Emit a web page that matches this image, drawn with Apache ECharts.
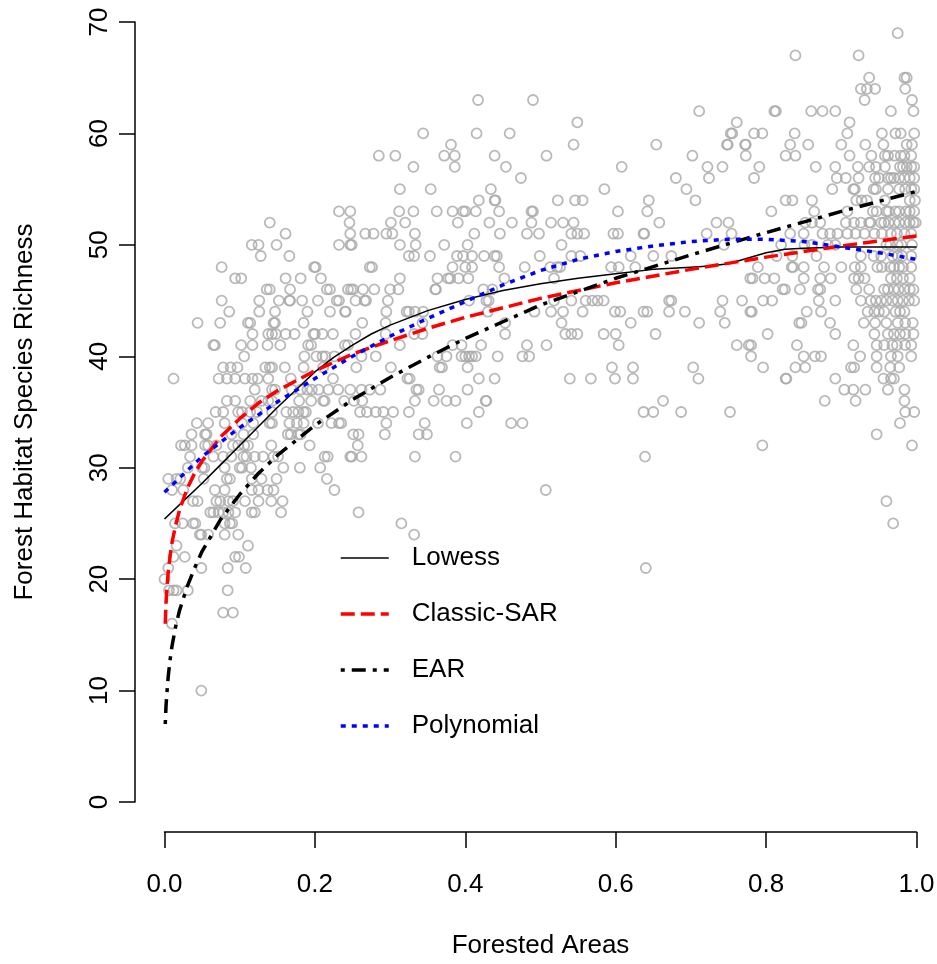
<!DOCTYPE html>
<html>
<head>
<meta charset="utf-8">
<script src="https://cdn.jsdelivr.net/npm/echarts@6/dist/echarts.min.js"></script>
<style>
html,body{margin:0;padding:0;background:#ffffff;}
#chart{width:937px;height:964px;}
</style>
</head>
<body>
<div id="chart"></div>
<script>
// ---- Data ----
const xTickValues = [0, 0.2, 0.4, 0.6, 0.8, 1.0];
const yTickValues = [0, 10, 20, 30, 40, 50, 60, 70];

// Observed points: [species richness, [forested-area proportions]]
const richnessRows = [
  [69, [0.975]],
  [67, [0.839, 0.923]],
  [65, [0.937, 0.984, 0.987]],
  [64, [0.926, 0.934, 0.945, 0.985]],
  [63, [0.417, 0.490, 0.931, 0.994]],
  [62, [0.711, 0.811, 0.813, 0.860, 0.875, 0.892, 0.966, 0.996]],
  [61, [0.549, 0.761, 0.911]],
  [60, [0.344, 0.415, 0.459, 0.753, 0.755, 0.784, 0.795, 0.838, 0.908, 0.954, 0.972, 0.979, 0.997]],
  [59, [0.381, 0.544, 0.654, 0.748, 0.749, 0.772, 0.773, 0.832, 0.856, 0.900, 0.932, 0.956, 0.987, 0.994]],
  [58, [0.285, 0.307, 0.372, 0.386, 0.439, 0.508, 0.702, 0.773, 0.826, 0.839, 0.911, 0.940, 0.958, 0.962, 0.971, 0.979, 0.984, 0.993]],
  [57, [0.331, 0.386, 0.454, 0.608, 0.722, 0.742, 0.791, 0.866, 0.892, 0.922, 0.937, 0.946, 0.958, 0.978, 0.982, 0.987, 0.993, 0.997]],
  [56, [0.474, 0.680, 0.724, 0.784, 0.894, 0.906, 0.923, 0.945, 0.950, 0.962, 0.966, 0.970, 0.977, 0.984, 0.991, 0.997]],
  [55, [0.313, 0.354, 0.434, 0.585, 0.694, 0.888, 0.916, 0.918, 0.943, 0.946, 0.962, 0.977, 0.985, 0.993, 0.997]],
  [54, [0.418, 0.439, 0.440, 0.523, 0.546, 0.556, 0.644, 0.706, 0.826, 0.835, 0.861, 0.920, 0.927, 0.934, 0.958, 0.991, 0.998]],
  [53, [0.232, 0.247, 0.312, 0.331, 0.362, 0.383, 0.397, 0.400, 0.414, 0.445, 0.488, 0.490, 0.603, 0.642, 0.807, 0.864, 0.908, 0.942, 0.947, 0.960, 0.963, 0.972, 0.977, 0.986, 0.991, 0.997]],
  [52, [0.140, 0.246, 0.301, 0.320, 0.390, 0.432, 0.462, 0.488, 0.514, 0.530, 0.544, 0.658, 0.734, 0.750, 0.852, 0.861, 0.872, 0.906, 0.917, 0.926, 0.937, 0.939, 0.953, 0.957, 0.963, 0.971, 0.977, 0.985, 0.991, 0.996, 0.999]],
  [51, [0.161, 0.247, 0.267, 0.278, 0.295, 0.303, 0.333, 0.412, 0.446, 0.482, 0.498, 0.541, 0.549, 0.558, 0.597, 0.603, 0.637, 0.638, 0.721, 0.754, 0.832, 0.850, 0.875, 0.885, 0.895, 0.908, 0.919, 0.931, 0.944, 0.954, 0.966, 0.974, 0.984, 0.993]],
  [50, [0.116, 0.125, 0.149, 0.232, 0.247, 0.249, 0.313, 0.334, 0.372, 0.403, 0.528, 0.744, 0.820, 0.851, 0.861, 0.882, 0.892, 0.960, 0.965, 0.975, 0.980, 0.994]],
  [49, [0.128, 0.166, 0.325, 0.332, 0.353, 0.389, 0.397, 0.409, 0.425, 0.439, 0.442, 0.499, 0.541, 0.553, 0.620, 0.650, 0.674, 0.814, 0.835, 0.867, 0.926, 0.943, 0.953, 0.968, 0.975, 0.981, 0.993]],
  [48, [0.076, 0.199, 0.201, 0.273, 0.276, 0.383, 0.400, 0.409, 0.445, 0.479, 0.513, 0.522, 0.526, 0.594, 0.604, 0.626, 0.789, 0.834, 0.836, 0.850, 0.877, 0.900, 0.918, 0.926, 0.948, 0.954, 0.965, 0.970, 0.977, 0.982, 0.993]],
  [47, [0.094, 0.102, 0.161, 0.181, 0.208, 0.313, 0.363, 0.377, 0.380, 0.391, 0.404, 0.452, 0.518, 0.779, 0.782, 0.798, 0.811, 0.850, 0.872, 0.886, 0.917, 0.923, 0.931, 0.966, 0.974, 0.982, 0.991]],
  [46, [0.136, 0.140, 0.167, 0.216, 0.220, 0.244, 0.248, 0.251, 0.264, 0.279, 0.300, 0.311, 0.360, 0.361, 0.424, 0.436, 0.822, 0.825, 0.845, 0.869, 0.872, 0.920, 0.937, 0.957, 0.962, 0.970, 0.976, 0.984, 0.991, 0.996]],
  [45, [0.076, 0.126, 0.152, 0.166, 0.167, 0.183, 0.204, 0.229, 0.232, 0.254, 0.266, 0.268, 0.297, 0.405, 0.428, 0.431, 0.518, 0.541, 0.560, 0.569, 0.576, 0.584, 0.671, 0.674, 0.742, 0.768, 0.796, 0.808, 0.870, 0.892, 0.926, 0.939, 0.946, 0.953, 0.960, 0.968, 0.975, 0.982, 0.990, 0.997]],
  [44, [0.086, 0.126, 0.147, 0.190, 0.220, 0.240, 0.241, 0.295, 0.322, 0.325, 0.333, 0.344, 0.430, 0.492, 0.514, 0.530, 0.556, 0.599, 0.606, 0.637, 0.642, 0.671, 0.692, 0.739, 0.779, 0.781, 0.854, 0.873, 0.935, 0.944, 0.950, 0.957, 0.972, 0.978, 0.984]],
  [43, [0.044, 0.074, 0.111, 0.114, 0.145, 0.147, 0.185, 0.263, 0.294, 0.343, 0.453, 0.528, 0.620, 0.711, 0.745, 0.844, 0.847, 0.885, 0.930, 0.945, 0.960, 0.975, 0.985, 0.995]],
  [42, [0.117, 0.138, 0.143, 0.148, 0.161, 0.173, 0.198, 0.200, 0.210, 0.224, 0.254, 0.294, 0.332, 0.343, 0.453, 0.533, 0.541, 0.549, 0.584, 0.600, 0.653, 0.802, 0.892, 0.944, 0.962, 0.970, 0.978, 0.985, 0.996]],
  [41, [0.065, 0.067, 0.102, 0.117, 0.137, 0.154, 0.191, 0.195, 0.240, 0.244, 0.313, 0.383, 0.395, 0.421, 0.482, 0.508, 0.604, 0.761, 0.777, 0.780, 0.841, 0.916, 0.947, 0.957, 0.968, 0.974, 0.985, 0.993]],
  [40, [0.106, 0.186, 0.202, 0.210, 0.214, 0.226, 0.262, 0.281, 0.363, 0.375, 0.395, 0.400, 0.405, 0.409, 0.414, 0.443, 0.476, 0.485, 0.780, 0.850, 0.865, 0.873, 0.925, 0.947, 0.966, 0.975, 0.993]],
  [39, [0.078, 0.088, 0.097, 0.134, 0.140, 0.143, 0.160, 0.185, 0.211, 0.255, 0.301, 0.366, 0.369, 0.403, 0.595, 0.623, 0.703, 0.796, 0.839, 0.852, 0.913, 0.917, 0.947, 0.965, 0.977]],
  [38, [0.012, 0.072, 0.083, 0.094, 0.107, 0.117, 0.124, 0.138, 0.168, 0.224, 0.323, 0.326, 0.418, 0.439, 0.539, 0.567, 0.599, 0.623, 0.710, 0.826, 0.827, 0.892, 0.956, 0.966, 0.970]],
  [37, [0.120, 0.143, 0.147, 0.169, 0.181, 0.190, 0.196, 0.205, 0.218, 0.231, 0.247, 0.262, 0.273, 0.287, 0.335, 0.338, 0.365, 0.403, 0.904, 0.916, 0.932, 0.962, 0.984]],
  [36, [0.083, 0.094, 0.114, 0.129, 0.138, 0.143, 0.179, 0.195, 0.211, 0.213, 0.239, 0.252, 0.263, 0.333, 0.358, 0.375, 0.387, 0.427, 0.428, 0.663, 0.878, 0.919, 0.984]],
  [35, [0.068, 0.078, 0.098, 0.103, 0.114, 0.123, 0.143, 0.162, 0.171, 0.178, 0.185, 0.188, 0.260, 0.269, 0.281, 0.291, 0.304, 0.325, 0.418, 0.637, 0.650, 0.687, 0.752, 0.985, 0.997]],
  [34, [0.043, 0.058, 0.080, 0.103, 0.118, 0.140, 0.143, 0.166, 0.176, 0.185, 0.204, 0.222, 0.232, 0.235, 0.295, 0.346, 0.402, 0.461, 0.476, 0.978]],
  [33, [0.036, 0.054, 0.056, 0.089, 0.105, 0.118, 0.164, 0.168, 0.178, 0.181, 0.251, 0.258, 0.293, 0.338, 0.349, 0.947]],
  [32, [0.022, 0.027, 0.036, 0.054, 0.058, 0.069, 0.091, 0.098, 0.106, 0.111, 0.142, 0.193, 0.257, 0.795, 0.994]],
  [31, [0.034, 0.065, 0.078, 0.089, 0.105, 0.109, 0.120, 0.131, 0.145, 0.151, 0.213, 0.217, 0.247, 0.249, 0.262, 0.333, 0.387, 0.639]],
  [30, [0.031, 0.050, 0.053, 0.080, 0.100, 0.103, 0.115, 0.158, 0.180, 0.207]],
  [29, [0.005, 0.016, 0.021, 0.052, 0.083, 0.087, 0.116, 0.129, 0.149, 0.216]],
  [28, [0.010, 0.025, 0.067, 0.080, 0.116, 0.125, 0.137, 0.145, 0.226, 0.507]],
  [27, [0.038, 0.044, 0.069, 0.074, 0.085, 0.091, 0.107, 0.125, 0.142, 0.157, 0.960]],
  [26, [0.061, 0.065, 0.072, 0.078, 0.085, 0.094, 0.116, 0.120, 0.155, 0.258]],
  [25, [0.014, 0.024, 0.038, 0.041, 0.080, 0.087, 0.090, 0.315, 0.969]],
  [24, [0.047, 0.049, 0.058, 0.080, 0.098, 0.332]],
  [23, [0.016, 0.111]],
  [22, [0.012, 0.027, 0.094, 0.099]],
  [21, [0.005, 0.049, 0.084, 0.108, 0.640]],
  [20, [0.000]],
  [19, [0.006, 0.012, 0.016, 0.031, 0.084]],
  [17, [0.078, 0.091]],
  [16, [0.010]],
  [10, [0.049]]
];

// Fitted curves
const lowessX = [0, 0.025, 0.05, 0.075, 0.1, 0.125, 0.15, 0.175, 0.2, 0.225, 0.25, 0.275, 0.3, 0.35, 0.4, 0.45, 0.5, 0.55, 0.6, 0.65, 0.7, 0.725, 0.75, 0.775, 0.8, 0.825, 0.85, 0.9, 0.95, 1.0];
const lowessY = [25.4, 27.0, 28.6, 30.3, 32.0, 33.7, 35.4, 37.0, 38.6, 39.9, 41.0, 42.0, 42.8, 44.1, 45.1, 45.9, 46.5, 47.0, 47.4, 47.8, 48.0, 48.1, 48.3, 48.8, 49.3, 49.6, 49.7, 49.8, 49.8, 49.8];

const sarX = [0.001, 0.002, 0.003, 0.005, 0.0075, 0.01, 0.015, 0.02, 0.03, 0.04, 0.05, 0.075, 0.1, 0.125, 0.15, 0.2, 0.25, 0.3, 0.35, 0.4, 0.5, 0.6, 0.7, 0.8, 0.9, 1.0];
const sarY = [16.0, 17.8, 19.0, 20.7, 22.1, 23.3, 24.9, 26.2, 28.1, 29.5, 30.6, 32.8, 34.4, 35.8, 36.9, 38.7, 40.2, 41.4, 42.5, 43.5, 45.2, 46.6, 47.8, 48.9, 49.9, 50.8];

const earX = [0.001, 0.002, 0.003, 0.005, 0.0075, 0.01, 0.015, 0.02, 0.03, 0.04, 0.05, 0.075, 0.1, 0.125, 0.15, 0.2, 0.25, 0.3, 0.35, 0.4, 0.45, 0.5, 0.6, 0.7, 0.8, 0.9, 1.0];
const earY = [7.0, 8.6, 9.6, 11.3, 12.8, 14.0, 15.8, 17.2, 19.3, 21.0, 22.5, 25.4, 27.6, 29.5, 31.1, 33.8, 36.1, 38.1, 39.9, 41.6, 43.1, 44.6, 47.0, 49.1, 51.1, 53.0, 54.8];

const polyX = [0, 0.05, 0.1, 0.15, 0.2, 0.25, 0.3, 0.35, 0.4, 0.45, 0.5, 0.55, 0.6, 0.65, 0.7, 0.75, 0.8, 0.85, 0.9, 0.95, 1.0];
const polyY = [27.8, 31.0, 33.6, 35.9, 38.0, 40.0, 41.8, 43.4, 44.9, 46.4, 47.7, 48.7, 49.4, 49.9, 50.3, 50.5, 50.5, 50.3, 49.8, 49.3, 48.7];

const seriesNames = ['Lowess', 'Classic-SAR', 'EAR', 'Polynomial'];

// ---- Build chart ----
const scatterData = [];
richnessRows.forEach(function (row) {
  row[1].forEach(function (x) { scatterData.push([x, row[0]]); });
});
function pairs(xs, ys) { return xs.map(function (x, i) { return [x, ys[i]]; }); }

const FONT = '"Liberation Sans", Arial, Helvetica, sans-serif';
const chart = echarts.init(document.getElementById('chart'), null, { renderer: 'canvas' });

function lineSeries(name, data, color, width, dash) {
  return {
    name: name, type: 'line', data: data, symbol: 'none', showSymbol: false,
    smooth: false, clip: false, silent: true,
    lineStyle: { color: color, width: width, type: dash, cap: 'butt', join: 'round' },
    itemStyle: { color: color },
    emphasis: { disabled: true }, z: 3
  };
}

const option = {
  backgroundColor: '#ffffff',
  animation: false,
  textStyle: { fontFamily: FONT },
  grid: { left: 164.5, right: 20.5, top: 22, bottom: 162, containLabel: false, outerBoundsMode: 'none' },
  xAxis: {
    type: 'value', min: xTickValues[0], max: xTickValues[xTickValues.length - 1], interval: 0.2,
    offset: 30,
    axisLine: { show: true, onZero: false, lineStyle: { color: '#000', width: 1.5 } },
    axisTick: { show: true, length: 16, lineStyle: { color: '#000', width: 1.5 } },
    axisLabel: { color: '#000', fontSize: 26, fontFamily: FONT, margin: 40, formatter: function (v) { return v.toFixed(1); } },
    splitLine: { show: false },
    name: 'Forested Areas', nameLocation: 'middle', nameGap: 101, nameMoveOverlap: false,
    nameTextStyle: { color: '#000', fontSize: 26, fontFamily: FONT }
  },
  yAxis: {
    type: 'value', min: yTickValues[0], max: yTickValues[yTickValues.length - 1], interval: 10,
    offset: 29.5,
    axisLine: { show: true, onZero: false, lineStyle: { color: '#000', width: 1.5 } },
    axisTick: { show: true, length: 16, lineStyle: { color: '#000', width: 1.5 } },
    axisLabel: { color: '#000', fontSize: 26, fontFamily: FONT, margin: 22, rotate: 90 },
    splitLine: { show: false },
    name: 'Forest Habitat Species Richness', nameLocation: 'middle', nameRotate: 90, nameGap: 97, nameMoveOverlap: false,
    nameTextStyle: { color: '#000', fontSize: 26, fontFamily: FONT }
  },
  legend: {
    data: seriesNames, orient: 'vertical', left: 339, top: 545, padding: 0,
    itemWidth: 48, itemHeight: 30, itemGap: 30, selectedMode: false,
    itemStyle: { color: 'rgba(0,0,0,0)', borderWidth: 0, opacity: 0 },
    lineStyle: { width: 'inherit', type: 'inherit' },
    textStyle: { fontSize: 26, color: '#000', fontFamily: FONT, padding: [0, 0, 0, 18] }
  },
  series: [
    {
      name: 'points', type: 'scatter', data: scatterData, symbol: 'circle', symbolSize: 10,
      clip: false, silent: true, large: false,
      itemStyle: { color: 'rgba(0,0,0,0)', borderColor: '#a8a8a8', borderWidth: 1.8 },
      emphasis: { disabled: true }, z: 2
    },
    lineSeries(seriesNames[0], pairs(lowessX, lowessY), '#000000', 1.5, 'solid'),
    lineSeries(seriesNames[1], pairs(sarX, sarY), '#ff0000', 3.5, [14, 6]),
    lineSeries(seriesNames[2], pairs(earX, earY), '#000000', 3.5, [4, 7, 14, 7]),
    lineSeries(seriesNames[3], pairs(polyX, polyY), '#0000ff', 3.5, [5, 6])
  ]
};
chart.setOption(option);
</script>
</body>
</html>
